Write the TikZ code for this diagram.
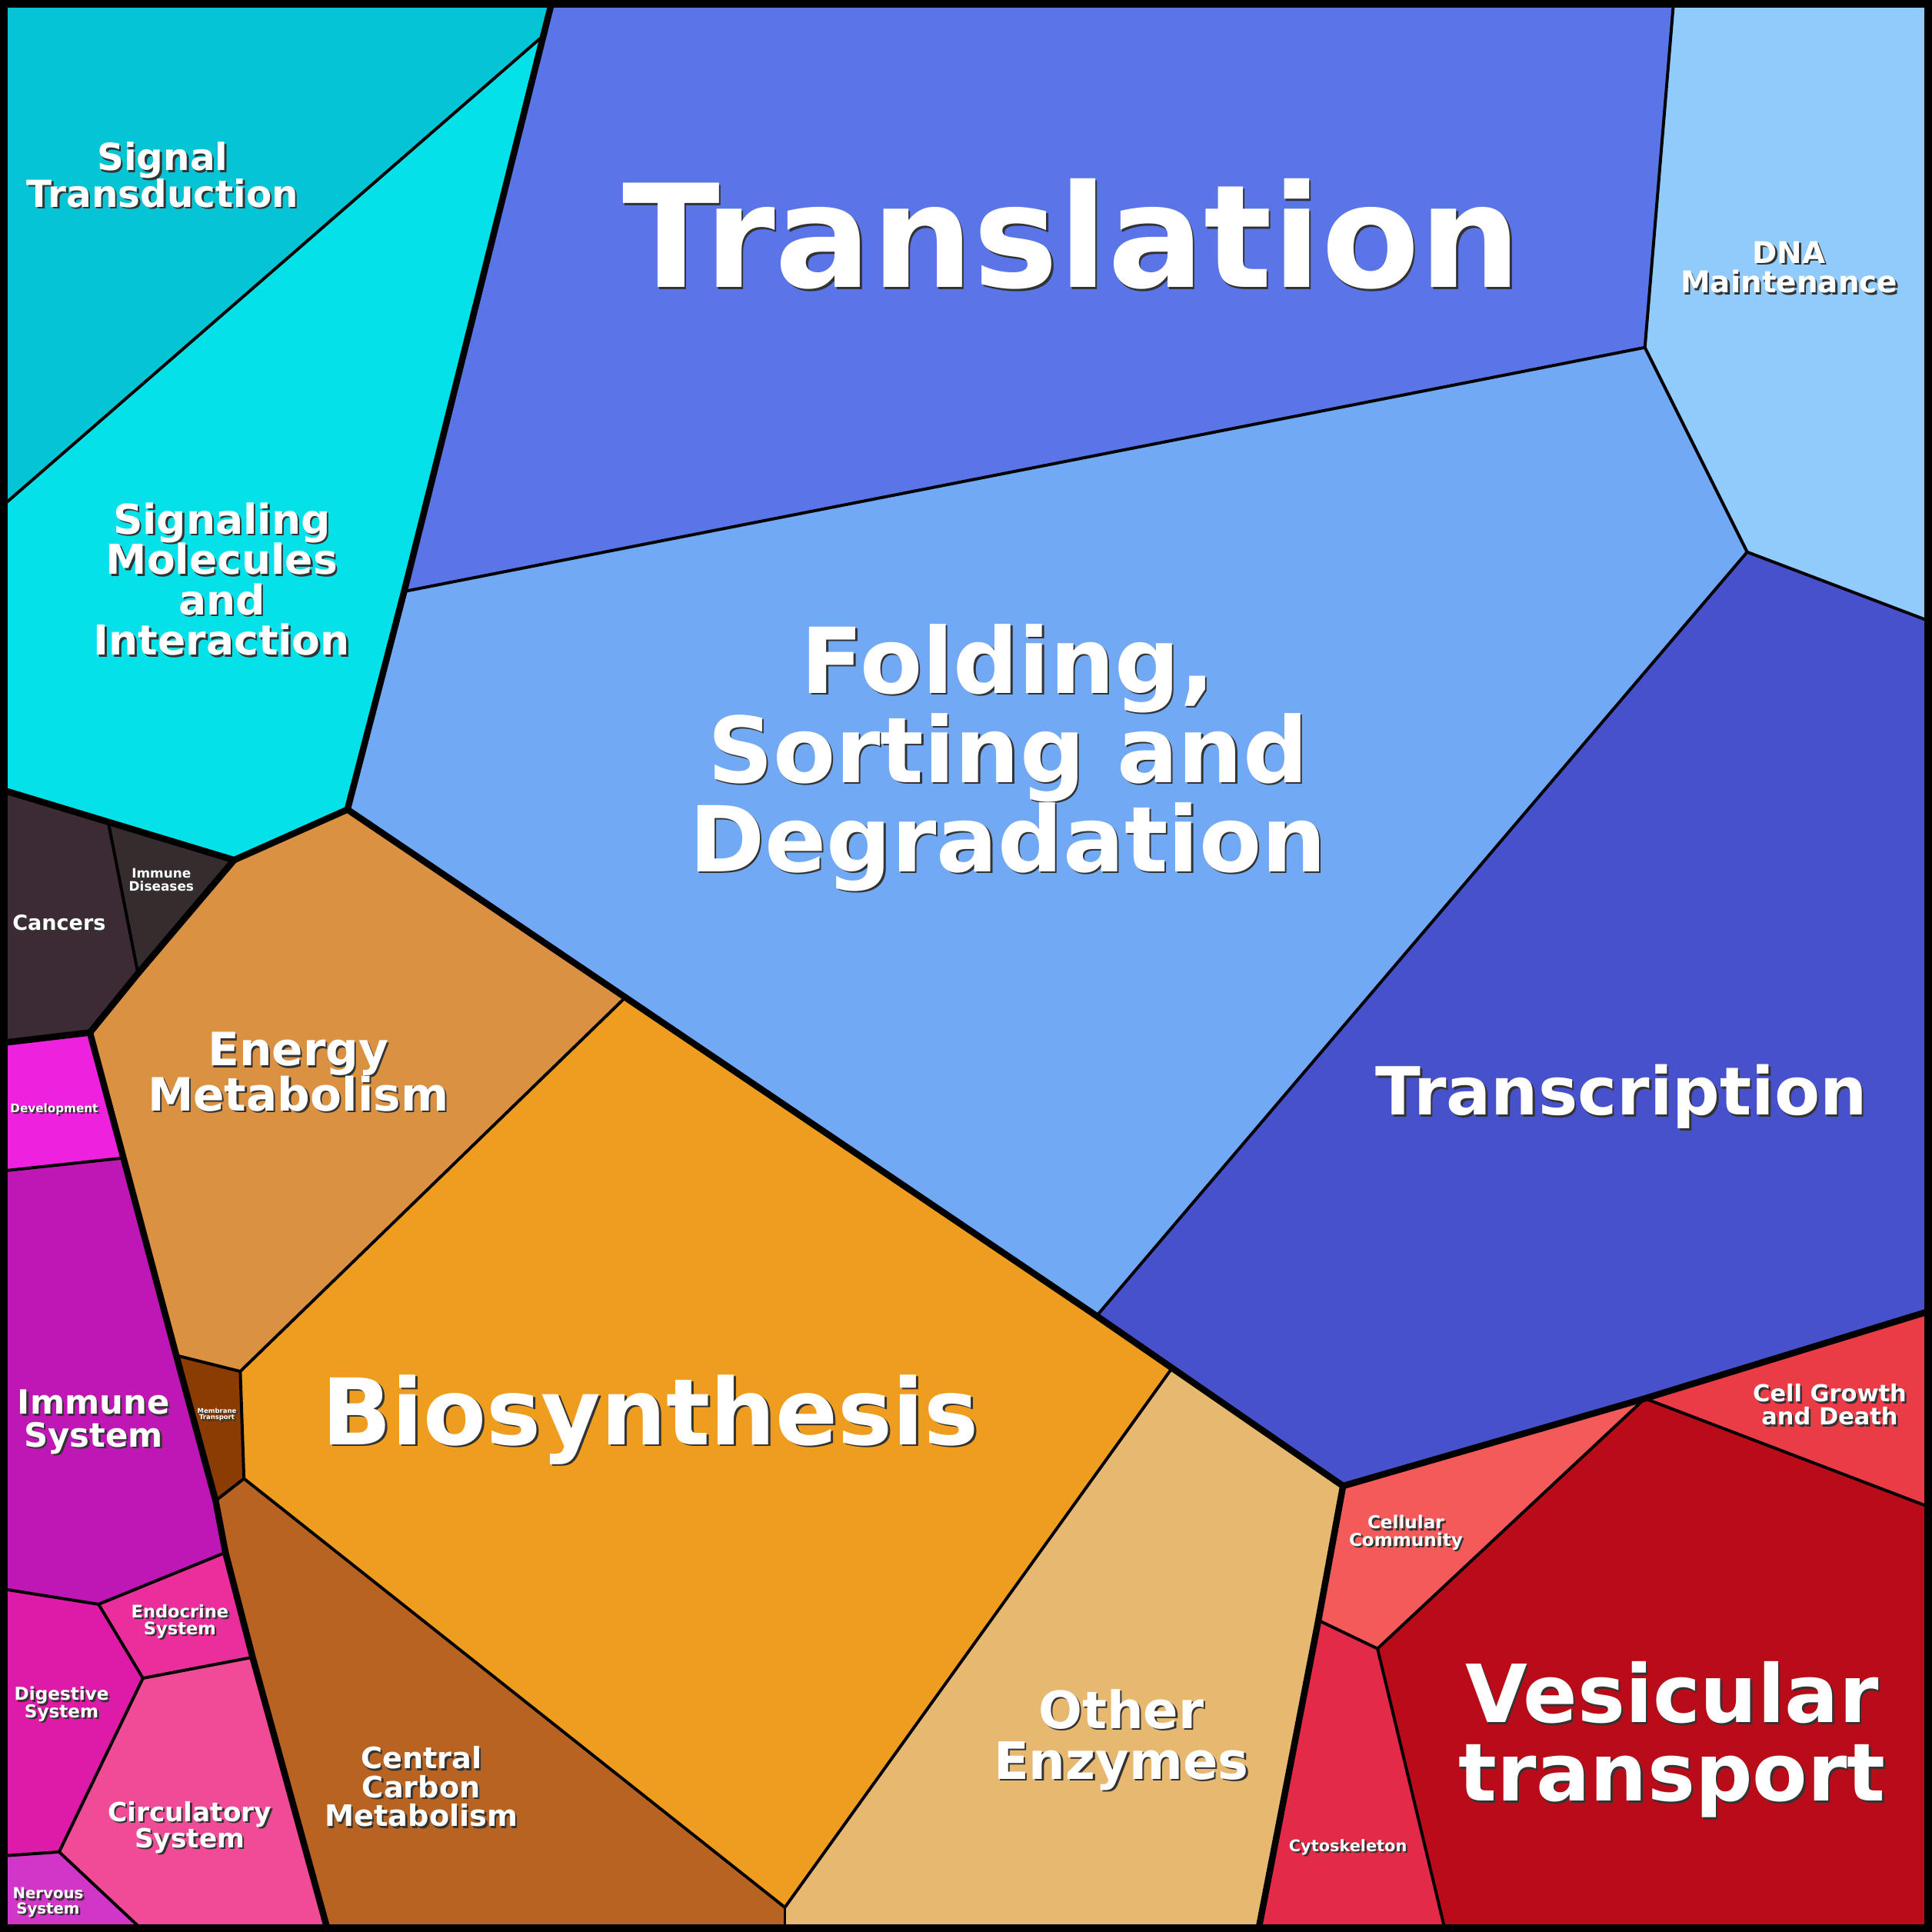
\documentclass[tikz,border=0pt]{standalone}
\usepackage{fontspec}
\setmainfont{DejaVu Sans}
\usetikzlibrary{positioning}
\definecolor{sigtr}{HTML}{05C4D4}
\definecolor{sigmol}{HTML}{05E1E9}
\definecolor{transl}{HTML}{5A75E8}
\definecolor{dnam}{HTML}{90CBFB}
\definecolor{fold}{HTML}{72A9F4}
\definecolor{transc}{HTML}{4751CB}
\definecolor{energy}{HTML}{DA9142}
\definecolor{biosyn}{HTML}{EE9D1E}
\definecolor{carbon}{HTML}{B86322}
\definecolor{membr}{HTML}{8B3C02}
\definecolor{othenz}{HTML}{E7B870}
\definecolor{cancer}{HTML}{3C2A35}
\definecolor{immdis}{HTML}{352C2E}
\definecolor{devel}{HTML}{EE22DE}
\definecolor{immsys}{HTML}{BE17B6}
\definecolor{endoc}{HTML}{EA2F9C}
\definecolor{digest}{HTML}{DE1AA8}
\definecolor{circul}{HTML}{F04B96}
\definecolor{nervous}{HTML}{D236C8}
\definecolor{cellcom}{HTML}{F55A5A}
\definecolor{cellgr}{HTML}{EA3C46}
\definecolor{vesic}{HTML}{BA0C18}
\definecolor{cytosk}{HTML}{E32A48}
% label with a dark shadow
\newcommand{\cellname}[4]{%
  \node[lbl,font=\bfseries\fontsize{#3}{0.98\dimexpr #3pt\relax}\selectfont,text=black!80] at ([shift={(1.5,1.5)}]#1) {#4};
  \node[lbl,font=\bfseries\fontsize{#3}{0.98\dimexpr #3pt\relax}\selectfont] (#2) at (#1) {#4};}
\begin{document}
\begin{tikzpicture}[x=0.01cm, y=-0.01cm, line join=round]
\tikzstyle{cell}=[draw=black, line width=0.7pt]
\tikzstyle{group}=[draw=black, line width=1.5pt]
\tikzstyle{lbl}=[text=white, align=center, inner sep=0pt]
\useasboundingbox (0,0) rectangle (1568,1568);
% cells
\fill[sigtr]  (5,5) -- (447,5) -- (442,28) -- (5,408) -- cycle;
\fill[sigmol] (442,28) -- (5,408) -- (5,642) -- (190,698) -- (282,657) -- (328,480) -- cycle;
\fill[transl] (447,5) -- (1358,5) -- (1335,282) -- (328,480) -- cycle;
\fill[dnam]   (1358,5) -- (1563,5) -- (1563,503) -- (1418,448) -- (1335,282) -- cycle;
\fill[fold]   (328,480) -- (1335,282) -- (1418,448) -- (890,1068) -- (507,810) -- (282,657) -- cycle;
\fill[transc] (1418,448) -- (1563,503) -- (1563,1065) -- (1335,1135) -- (1090,1206) -- (950,1112) -- (890,1068) -- cycle;
\fill[energy] (282,657) -- (507,810) -- (195,1113) -- (143,1100) -- (73,838) -- (112,790) -- (190,698) -- cycle;
\fill[cancer] (5,642) -- (88,668) -- (112,790) -- (73,838) -- (5,846) -- cycle;
\fill[immdis] (88,668) -- (190,698) -- (112,790) -- cycle;
\fill[devel]  (5,846) -- (73,838) -- (98,940) -- (5,950) -- cycle;
\fill[immsys] (5,950) -- (98,940) -- (143,1100) -- (175,1218) -- (183,1260) -- (80,1302) -- (5,1290) -- cycle;
\fill[membr]  (143,1100) -- (195,1113) -- (198,1200) -- (175,1218) -- cycle;
\fill[biosyn] (507,810) -- (890,1068) -- (950,1112) -- (637,1548) -- (198,1200) -- (195,1113) -- cycle;
\fill[carbon] (175,1218) -- (198,1200) -- (637,1548) -- (637,1563) -- (265,1563) -- (205,1345) -- (183,1260) -- cycle;
\fill[endoc]  (80,1302) -- (183,1260) -- (205,1345) -- (116,1362) -- cycle;
\fill[digest] (5,1290) -- (80,1302) -- (116,1362) -- (48,1503) -- (5,1506) -- cycle;
\fill[circul] (116,1362) -- (205,1345) -- (265,1563) -- (112,1563) -- (48,1503) -- cycle;
\fill[nervous] (5,1506) -- (48,1503) -- (112,1563) -- (5,1563) -- cycle;
\fill[othenz] (950,1112) -- (1090,1206) -- (1070,1315) -- (1022,1563) -- (637,1563) -- (637,1548) -- cycle;
\fill[cellcom] (1090,1206) -- (1335,1135) -- (1118,1338) -- (1070,1315) -- cycle;
\fill[cellgr] (1335,1135) -- (1563,1065) -- (1563,1222) -- cycle;
\fill[vesic]  (1335,1135) -- (1563,1222) -- (1563,1563) -- (1172,1563) -- (1118,1338) -- cycle;
\fill[cytosk] (1070,1315) -- (1118,1338) -- (1172,1563) -- (1022,1563) -- cycle;
% thin borders
\draw[cell] (442,28) -- (5,408);
\draw[cell] (1358,5) -- (1335,282) -- (328,480);
\draw[cell] (1335,282) -- (1418,448) -- (1563,503);
\draw[cell] (1418,448) -- (890,1068);
\draw[cell] (88,668) -- (112,790);
\draw[cell] (507,810) -- (195,1113) -- (143,1100);
\draw[cell] (195,1113) -- (198,1200) -- (175,1218);
\draw[cell] (198,1200) -- (637,1548) -- (950,1112);
\draw[cell] (637,1548) -- (637,1563);
\draw[cell] (98,940) -- (5,950);
\draw[cell] (5,1290) -- (80,1302) -- (183,1260);
\draw[cell] (80,1302) -- (116,1362) -- (205,1345);
\draw[cell] (116,1362) -- (48,1503) -- (5,1506);
\draw[cell] (48,1503) -- (112,1563);
\draw[cell] (1335,1135) -- (1118,1338) -- (1070,1315);
\draw[cell] (1118,1338) -- (1172,1563);
\draw[cell] (1335,1135) -- (1563,1222);
% group borders
\draw[group] (447,5) -- (328,480) -- (282,657) -- (190,698) -- (5,642);
\draw[group] (282,657) -- (890,1068) -- (1090,1206) -- (1335,1135) -- (1563,1065);
\draw[group] (1090,1206) -- (1070,1315) -- (1022,1563);
\draw[group] (5,846) -- (73,838) -- (112,790) -- (190,698);
\draw[group] (73,838) -- (143,1100) -- (175,1218) -- (183,1260) -- (205,1345) -- (265,1563);
\draw[black, line width=2.3pt] (2,2) rectangle (1566,1566);
% labels
\cellname{870,190}{translation}{33}{Translation}
\cellname{132,142}{sigtransd}{8.6}{Signal\\Transduction}
\cellname{180,470}{sigmol}{9.5}{Signaling\\Molecules\\and\\Interaction}
\cellname{1452,217}{dnamaint}{6.9}{DNA\\Maintenance}
\cellname{818,615}{folding}{21}{Folding,\\Sorting and\\Degradation}
\cellname{1316,890}{transcription}{15.3}{Transcription}
\cellname{242,870}{energy}{10.6}{Energy\\Metabolism}
\cellname{528,1152}{biosynthesis}{21.2}{Biosynthesis}
\cellname{342,1450}{carbon}{6.8}{Central\\Carbon\\Metabolism}
\cellname{176,1148}{membrane}{1.5}{Membrane\\Transport}
\cellname{910,1412}{otherenz}{11.9}{Other\\Enzymes}
\cellname{48,749}{cancers}{4.8}{Cancers}
\cellname{131,714}{immdiseases}{3}{Immune\\Diseases}
\cellname{44,900}{development}{2.7}{Development}
\cellname{76,1154}{immsystem}{7.7}{Immune\\System}
\cellname{146,1316}{endocrine}{4}{Endocrine\\System}
\cellname{50,1383}{digestive}{4.1}{Digestive\\System}
\cellname{154,1483}{circulatory}{6.1}{Circulatory\\System}
\cellname{39,1544}{nervous}{3.5}{Nervous\\System}
\cellname{1141,1244}{cellcomm}{4.1}{Cellular\\Community}
\cellname{1485,1140}{cellgrowth}{5.4}{Cell Growth\\and Death}
\cellname{1357,1412}{vesicular}{18.5}{Vesicular\\transport}
\cellname{1094,1499}{cytoskeleton}{3.7}{Cytoskeleton}
\end{tikzpicture}
\end{document}
